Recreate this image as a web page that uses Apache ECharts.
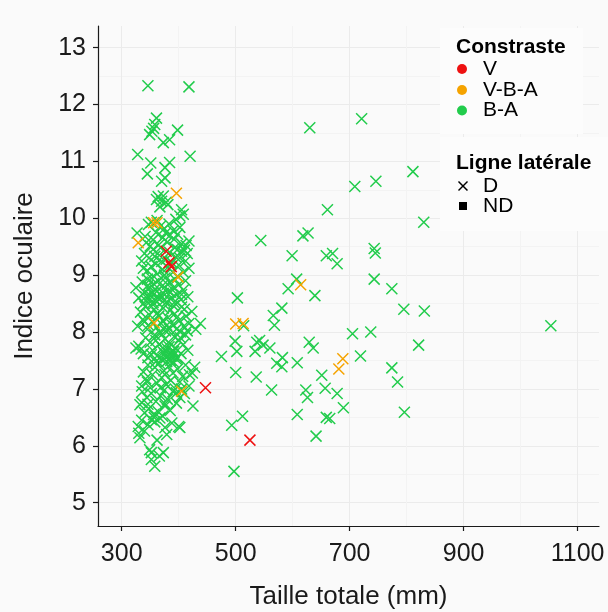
<!DOCTYPE html>
<html><head><meta charset="utf-8">
<script src="https://cdn.jsdelivr.net/npm/echarts@6/dist/echarts.min.js"></script>
<style>html,body{margin:0;padding:0;background:#fafafa}#c{width:608px;height:612px}</style>
</head><body><div id="c"></div>
<script>
const xTicks = [300, 500, 700, 900, 1100];
const xMinor = [400, 600, 800, 1000];
const yTicks = [5, 6, 7, 8, 9, 10, 11, 12, 13];
const yMinor = [5.5, 6.5, 7.5, 8.5, 9.5, 10.5, 11.5, 12.5];
const contrastGroups = ['V', 'V-B-A', 'B-A'];
const lateralGroups = ['D', 'ND'];

// Contraste V (red)
const vPoints = [[447,7.02],[525,6.10],[378,9.42],[383,9.22],[387,9.15]];
// Contraste V-B-A (orange)
const vbaPoints = [[614,8.83],[500,8.14],[513,8.15],[688,7.53],[681,7.35],
  [396,10.44],[356,9.92],[362,9.92],[329,9.57],[399,8.97],[357,8.16],[405,6.96]];
// Contraste B-A (green) - main cluster
const baCluster = [
  [346,12.33],[418,12.31],[361,11.76],[358,11.65],[353,11.53],[349,11.47],[356,11.58],[398,11.55],[384,11.38],[373,11.33],
  [328,11.12],[420,11.09],[351,10.97],[384,10.98],[376,10.89],[345,10.78],[376,10.71],[370,10.65],
  [364,10.38],[373,10.39],[361,10.33],[370,10.30],[381,10.24],[378,10.28],[405,10.15],[402,10.04],[408,10.07],[367,10.20],
  [347,9.89],[352,9.93],[368,9.86],[375,9.82],[383,9.90],[390,9.78],[398,9.72],[360,9.75],[327,9.74],[341,9.68],
  [355,9.62],[372,9.66],[380,9.58],[392,9.63],[405,9.55],[413,9.52],[365,9.53],[350,9.51],[385,9.70],[402,9.84],
  [418,9.60],[362,9.96],[395,9.98],[343,9.57],[377,9.74],[410,9.44],
  [335,9.25],[340,9.38],[348,9.30],[355,9.45],[360,9.20],[366,9.35],[372,9.10],[378,9.28],[384,9.40],[390,9.05],
  [395,9.32],[400,9.18],[405,9.42],[412,9.25],[418,9.12],[345,9.08],[352,9.15],[362,9.02],[368,9.48],[375,9.00],
  [388,9.22],[398,9.45],[408,9.05],[415,9.38],[338,9.12],[358,9.33],[381,9.14],[393,9.48],[370,9.24],[402,9.30],
  [325,8.78],[330,8.60],[336,8.88],[340,8.70],[343,8.55],[346,8.82],[349,8.65],[352,8.95],[355,8.52],[358,8.75],
  [361,8.62],[364,8.90],[367,8.58],[370,8.80],[373,8.68],[376,8.95],[379,8.53],[382,8.72],[385,8.87],[388,8.60],
  [391,8.78],[394,8.92],[397,8.66],[400,8.83],[404,8.57],[408,8.74],[412,8.90],[416,8.62],[338,8.50],[345,8.93],
  [350,8.58],[356,8.85],[362,8.72],[368,8.65],[374,8.55],[380,8.84],[386,8.70],[392,8.52],[398,8.98],[405,8.66],
  [342,8.62],[348,8.76],[353,8.68],[359,8.56],
  [328,8.10],[333,8.35],[337,8.22],[341,8.45],[345,8.05],[349,8.30],[353,8.18],[357,8.40],[361,8.08],[365,8.28],
  [369,8.15],[373,8.42],[377,8.02],[381,8.25],[385,8.38],[389,8.12],[393,8.32],[397,8.06],[401,8.20],[405,8.44],
  [409,8.10],[413,8.28],[418,8.15],[423,8.36],[340,8.18],[355,8.48],[367,8.00],[379,8.12],[391,8.46],[403,8.00],
  [362,8.33],[372,8.20],[384,8.05],[396,8.25],[410,8.40],[415,8.02],[347,8.12],
  [325,7.72],[330,7.75],[334,7.70],[338,7.62],[342,7.90],[346,7.55],[350,7.82],[354,7.68],[358,7.95],[362,7.58],
  [366,7.78],[370,7.52],[373,7.65],[376,7.88],[378,7.55],[380,7.70],[382,7.60],[384,7.80],[386,7.50],[388,7.66],
  [390,7.58],[392,7.92],[394,7.72],[397,7.55],[400,7.85],[404,7.62],[408,7.78],[412,7.95],[416,7.68],[375,7.62],
  [379,7.48],[383,7.74],[387,7.58],[372,7.72],[391,7.66],[368,7.98],[360,7.85],[396,7.52],[403,7.90],[352,7.60],
  [335,7.05],[338,7.30],[342,7.18],[346,7.42],[350,7.02],[354,7.25],[358,7.38],[362,7.10],[366,7.45],[370,7.20],
  [374,7.32],[378,7.08],[382,7.40],[386,7.15],[390,7.28],[394,7.00],[398,7.35],[402,7.12],[407,7.22],[412,7.42],
  [418,7.05],[424,7.28],[345,7.12],[360,7.48],[376,7.25],[392,7.46],[405,7.00],[368,7.02],[428,7.38],[419,7.25],
  [332,6.72],[336,6.95],[340,6.58],[344,6.85],[348,6.65],[352,6.92],[356,6.55],[360,6.78],[364,6.60],[368,6.88],
  [372,6.52],[376,6.70],[380,6.82],[385,6.62],[390,6.95],[396,6.75],[402,6.85],[410,6.92],[357,6.50],[375,6.98],
  [335,6.76],[346,6.73],[376,6.74],[396,6.93],[425,6.70],
  [329,6.34],[340,6.26],[332,6.14],[346,6.37],[352,6.46],[367,6.49],[376,6.32],[379,6.20],[402,6.32],[358,6.42],
  [362,6.10],[335,6.45],[388,6.40],[330,6.22],
  [352,5.88],[373,5.88],[358,5.64],[352,5.76],[349,5.93],[366,5.82]
];
// Contraste B-A (green) - spread points
const baSpread = [
  [630,11.59],[721,11.75],[811,10.82],[709,10.56],[746,10.65],[661,10.15],[830,9.93],[544,9.61],[618,9.69],[627,9.74],
  [599,9.34],[659,9.34],[670,9.38],[678,9.20],[743,9.47],[745,9.39],[743,8.93],[774,8.76],[607,8.93],[592,8.76],
  [639,8.64],[503,8.60],[581,8.42],[566,8.29],[568,8.12],[795,8.40],[831,8.37],[1053,8.11],[705,7.97],[737,8.00],
  [821,7.77],[514,8.11],[499,7.84],[502,7.66],[475,7.57],[537,7.82],[542,7.85],[534,7.66],[560,7.72],[548,7.77],
  [629,7.82],[636,7.72],[572,7.45],[581,7.39],[582,7.55],[608,7.46],[719,7.58],[774,7.37],[784,7.12],[500,7.29],
  [536,7.21],[563,6.98],[651,7.24],[623,6.98],[626,6.85],[657,7.01],[678,6.92],[689,6.67],[796,6.59],[608,6.55],
  [659,6.50],[665,6.48],[641,6.17],[493,6.36],[512,6.52],[497,5.55],[400,6.34],[438,8.15],[430,8.05]
];

const colors = {'V':'#ee1111','V-B-A':'#f5a300','B-A':'#22cc4c'};
const FONT = "'Liberation Sans', Arial, sans-serif";
const crossPath = 'path://M0,0L10,10M10,0L0,10';
const AXC = '#1a1a1a';

function mkSeries(name, data, z) {
  return {
    name: name, type: 'scatter', data: data, z: z,
    symbol: crossPath, symbolSize: 11,
    itemStyle: {color: colors[name], borderColor: colors[name], borderWidth: 1.5, opacity: 1},
    emphasis: {disabled: true}, silent: true, animation: false
  };
}

const chart = echarts.init(document.getElementById('c'), null, {renderer: 'canvas'});
const X0 = 258.4, X1 = 1137.5, Y0 = 4.59, Y1 = 13.38;

const legendItems = [];
legendItems.push({type:'rect', shape:{x:440,y:28,width:143,height:106}, style:{fill:'#fcfcfc'}, z:1, silent:true});
legendItems.push({type:'rect', shape:{x:440,y:137,width:168,height:94}, style:{fill:'#fcfcfc'}, z:1, silent:true});
legendItems.push({type:'text', x:456, y:47, style:{text:'Constraste', font:"bold 21px " + FONT, fill:'#000', verticalAlign:'middle'}, z:5});
const legY = [69, 90, 110.5];
contrastGroups.forEach(function(g, i){
  legendItems.push({type:'circle', shape:{cx:462, cy:legY[i], r:5}, style:{fill:colors[g]}, z:5});
  legendItems.push({type:'text', x:483, y:legY[i], style:{text:g, font:"21px " + FONT, fill:'#000', verticalAlign:'middle'}, z:5});
});
legendItems.push({type:'text', x:456, y:163, style:{text:'Ligne latérale', font:"bold 21px " + FONT, fill:'#000', verticalAlign:'middle'}, z:5});
legendItems.push({type:'line', shape:{x1:458.5,y1:181.5,x2:467.5,y2:190.5}, style:{stroke:'#000', lineWidth:1.5}, z:5});
legendItems.push({type:'line', shape:{x1:467.5,y1:181.5,x2:458.5,y2:190.5}, style:{stroke:'#000', lineWidth:1.5}, z:5});
legendItems.push({type:'rect', shape:{x:459, y:202, width:8, height:8}, style:{fill:'#000'}, z:5});
legendItems.push({type:'text', x:483, y:186, style:{text:lateralGroups[0], font:"21px " + FONT, fill:'#000', verticalAlign:'middle'}, z:5});
legendItems.push({type:'text', x:483, y:206, style:{text:lateralGroups[1], font:"21px " + FONT, fill:'#000', verticalAlign:'middle'}, z:5});

const plainFmt = function (v) { return String(v); };

chart.setOption({
  backgroundColor: '#fafafa',
  animation: false,
  grid: {left: 98, right: 9, top: 26, bottom: 86, containLabel: false, outerBoundsMode: 'none'},
  xAxis: [{
    type: 'value', min: X0, max: X1, position: 'bottom',
    name: 'Taille totale (mm)', nameLocation: 'middle', nameGap: 58,
    nameTextStyle: {fontSize: 26, color: AXC, fontFamily: FONT},
    axisLine: {show: true, onZero: false, lineStyle: {color: AXC, width: 1.2}},
    axisTick: {show: true, length: 5, customValues: xTicks, lineStyle: {color: AXC, width: 1.2}},
    axisLabel: {customValues: xTicks, formatter: plainFmt, fontSize: 25, color: AXC, margin: 16, fontFamily: FONT},
    splitLine: {show: true, lineStyle: {color: '#ebebeb', width: 1}}
  }, {
    type: 'value', min: X0, max: X1, position: 'top',
    axisLine: {show: false}, axisTick: {show: false, customValues: xMinor}, axisLabel: {show: false},
    splitLine: {show: true, lineStyle: {color: '#f3f3f3', width: 1}}
  }],
  yAxis: [{
    type: 'value', min: Y0, max: Y1, position: 'left',
    name: 'Indice oculaire', nameLocation: 'middle', nameGap: 60,
    nameTextStyle: {fontSize: 26, color: AXC, fontFamily: FONT},
    axisLine: {show: true, onZero: false, lineStyle: {color: AXC, width: 1.2}},
    axisTick: {show: true, length: 5, customValues: yTicks, lineStyle: {color: AXC, width: 1.2}},
    axisLabel: {customValues: yTicks, formatter: plainFmt, fontSize: 25, color: AXC, margin: 12, fontFamily: FONT},
    splitLine: {show: true, lineStyle: {color: '#ebebeb', width: 1}}
  }, {
    type: 'value', min: Y0, max: Y1, position: 'right',
    axisLine: {show: false}, axisTick: {show: false, customValues: yMinor}, axisLabel: {show: false},
    splitLine: {show: true, lineStyle: {color: '#f3f3f3', width: 1}}
  }],
  series: [
    mkSeries('B-A', baCluster.concat(baSpread), 2),
    mkSeries('V-B-A', vbaPoints, 3),
    mkSeries('V', vPoints, 4)
  ],
  graphic: legendItems
});
</script></body></html>
